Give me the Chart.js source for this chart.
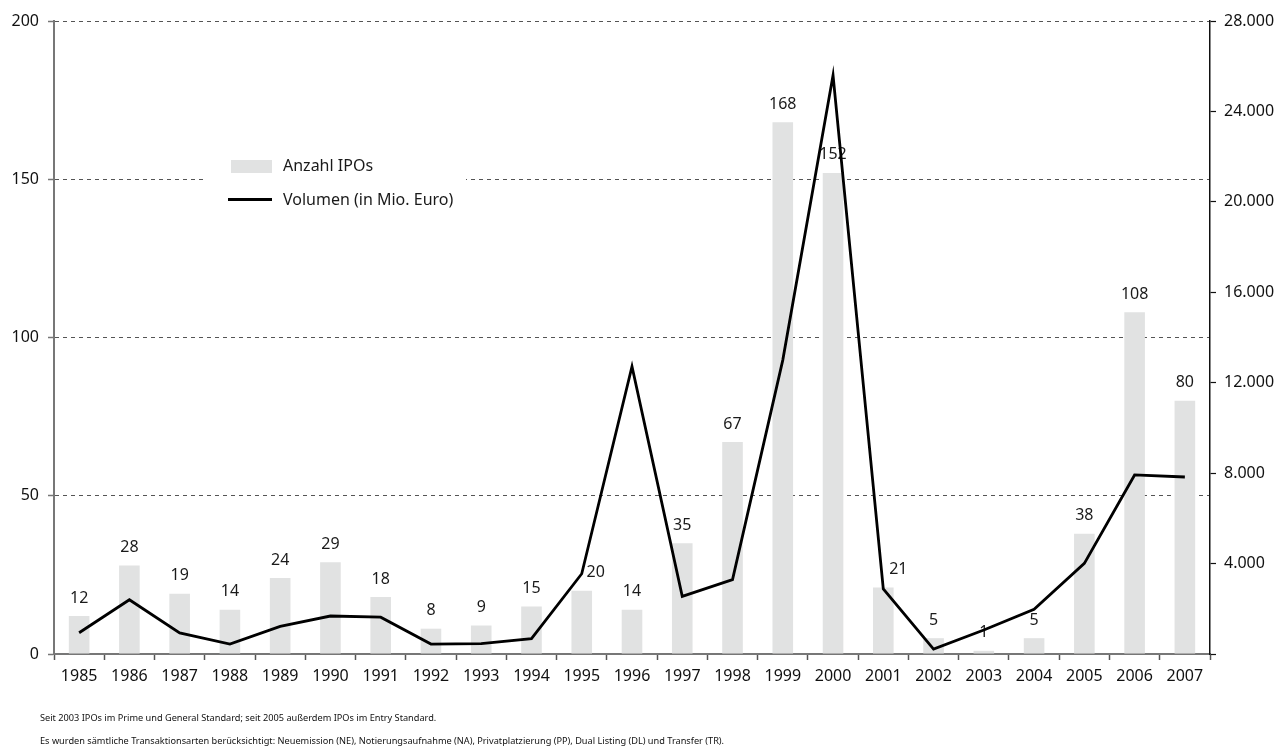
<!DOCTYPE html>
<html lang="de">
<head>
<meta charset="utf-8">
<title>IPOs in Deutschland 1985–2007</title>
<script src="https://cdn.jsdelivr.net/npm/chart.js@4.4.1/dist/chart.umd.min.js"></script>
<style>
  html, body { margin: 0; padding: 0; background: #fff; }
  #wrap { position: relative; width: 1276px; height: 747px; overflow: hidden; }
  #chart { position: absolute; left: 0; top: 0; }
  .note { position: absolute; left: 40px; font-family: "Noto Sans", sans-serif; font-size: 9.2px; color: #111; white-space: nowrap; }
</style>
</head>
<body>
<div id="wrap">
  <canvas id="chart" width="1276" height="747"></canvas>
  <div class="note" style="top:711px">Seit 2003 IPOs im Prime und General Standard; seit 2005 außerdem IPOs im Entry Standard.</div>
  <div class="note" style="top:734px">Es wurden sämtliche Transaktionsarten berücksichtigt: Neuemission (NE), Notierungsaufnahme (NA), Privatplatzierung (PP), Dual Listing (DL) und Transfer (TR).</div>
</div>
<script>
// Jahre
const years = ['1985','1986','1987','1988','1989','1990','1991','1992','1993','1994','1995','1996',
               '1997','1998','1999','2000','2001','2002','2003','2004','2005','2006','2007'];
// Anzahl IPOs pro Jahr
const ipoCount = [12, 28, 19, 14, 24, 29, 18, 8, 9, 15, 20, 14, 35, 67, 168, 152, 21, 5, 1, 5, 38, 108, 80];
// Emissionsvolumen in Mio. Euro
const volume = [940, 2400, 930, 440, 1220, 1680, 1630, 440, 460, 680, 3550, 12720,
                2550, 3290, 13000, 25600, 2880, 220, 1060, 1980, 4010, 7920, 7830];
// Achsenbeschriftungen
const countTicks = [0, 50, 100, 150, 200];
const volumeTicks = [0, 4000, 8000, 12000, 16000, 20000, 24000, 28000];
const seriesNames = ['Anzahl IPOs', 'Volumen (in Mio. Euro)'];

const FONT = '"Noto Sans", sans-serif';
const BAR_GREY = '#e1e2e2';

// Beschriftungen, die seitlich neben die Volumenlinie gerückt werden (px)
const labelShift = { '1995': 14, '2001': 15 };

function fmtThousands(v) {
  return String(v).replace(/\B(?=(\d{3})+(?!\d))/g, '.');
}

// Zahlenwerte über den Balken (Datensatz 0 = Balken)
const barLabels = {
  id: 'barLabels',
  beforeDatasetsDraw(chart) {
    const ctx = chart.ctx;
    const meta = chart.getDatasetMeta(0);
    ctx.save();
    ctx.font = '16px ' + FONT;
    ctx.fillStyle = '#1a1a1a';
    ctx.textAlign = 'center';
    ctx.textBaseline = 'middle';
    meta.data.forEach((bar, i) => {
      const dx = labelShift[chart.data.labels[i]] || 0;
      ctx.fillText(String(chart.data.datasets[0].data[i]), bar.x + dx, bar.y - 18);
    });
    ctx.restore();
  }
};

// Legende im Diagrammbereich mit weißem Hintergrund
const innerLegend = {
  id: 'innerLegend',
  beforeDatasetsDraw(chart) {
    const ctx = chart.ctx;
    const bars = chart.data.datasets[0];
    const line = chart.data.datasets[1];
    ctx.save();
    ctx.fillStyle = '#fff';
    ctx.fillRect(205, 150, 261, 66);
    ctx.fillStyle = bars.backgroundColor;
    ctx.fillRect(231, 160, 41, 13);
    ctx.strokeStyle = line.borderColor;
    ctx.lineWidth = 3;
    ctx.beginPath();
    ctx.moveTo(228, 199.5);
    ctx.lineTo(272, 199.5);
    ctx.stroke();
    ctx.font = '16px ' + FONT;
    ctx.fillStyle = '#1a1a1a';
    ctx.textAlign = 'left';
    ctx.textBaseline = 'middle';
    ctx.fillText(bars.label, 283, 166);
    ctx.fillText(line.label, 283, 200);
    ctx.restore();
  }
};

new Chart(document.getElementById('chart'), {
  type: 'bar',
  data: {
    labels: years,
    datasets: [
      {
        type: 'bar',
        label: seriesNames[0],
        data: ipoCount,
        yAxisID: 'yCount',
        backgroundColor: BAR_GREY,
        borderWidth: 0,
        barPercentage: 0.82,
        categoryPercentage: 0.5,
        order: 1
      },
      {
        type: 'line',
        label: seriesNames[1],
        data: volume,
        yAxisID: 'yVol',
        borderColor: '#000',
        backgroundColor: '#000',
        borderWidth: 2.8,
        pointRadius: 0,
        tension: 0,
        order: 0
      }
    ]
  },
  options: {
    responsive: false,
    animation: false,
    devicePixelRatio: 1,
    layout: { padding: { top: 21, left: 0, right: 0, bottom: 0 } },
    plugins: { legend: { display: false }, tooltip: { enabled: false } },
    scales: {
      x: {
        offset: true,
        grid: {
          offset: true,
          drawOnChartArea: false,
          drawTicks: true,
          tickLength: 6,
          tickColor: '#555',
          tickWidth: 1.5
        },
        border: { display: true, color: '#777', width: 2 },
        ticks: { font: { family: FONT, size: 16 }, color: '#111', padding: 7, maxRotation: 0, autoSkip: false },
        afterFit(scale) { scale.height = 93; }
      },
      yCount: {
        position: 'left',
        min: 0, max: 200,
        afterBuildTicks(scale) { scale.ticks = countTicks.map(v => ({ value: v })); },
        grid: {
          color: '#555',
          lineWidth: 1,
          drawTicks: true,
          tickLength: 6,
          tickColor: '#777',
          tickWidth: 1.5,
          tickBorderDash: []
        },
        border: { display: true, color: '#777', width: 2, dash: [4, 4] },
        ticks: { font: { family: FONT, size: 16 }, color: '#111', padding: 9 },
        afterFit(scale) { scale.width = 54; }
      },
      yVol: {
        position: 'right',
        min: 0, max: 28000,
        afterBuildTicks(scale) { scale.ticks = volumeTicks.map(v => ({ value: v })); },
        grid: {
          drawOnChartArea: false,
          drawTicks: true,
          tickLength: 6,
          tickColor: '#111',
          tickWidth: 1.2
        },
        border: { display: true, color: '#111', width: 1.5 },
        ticks: {
          font: { family: FONT, size: 16 },
          color: '#111',
          padding: 8,
          callback: v => (v === 0 ? '' : fmtThousands(v))
        },
        afterFit(scale) { scale.width = 66; }
      }
    }
  },
  plugins: [barLabels, innerLegend]
});
</script>
</body>
</html>
